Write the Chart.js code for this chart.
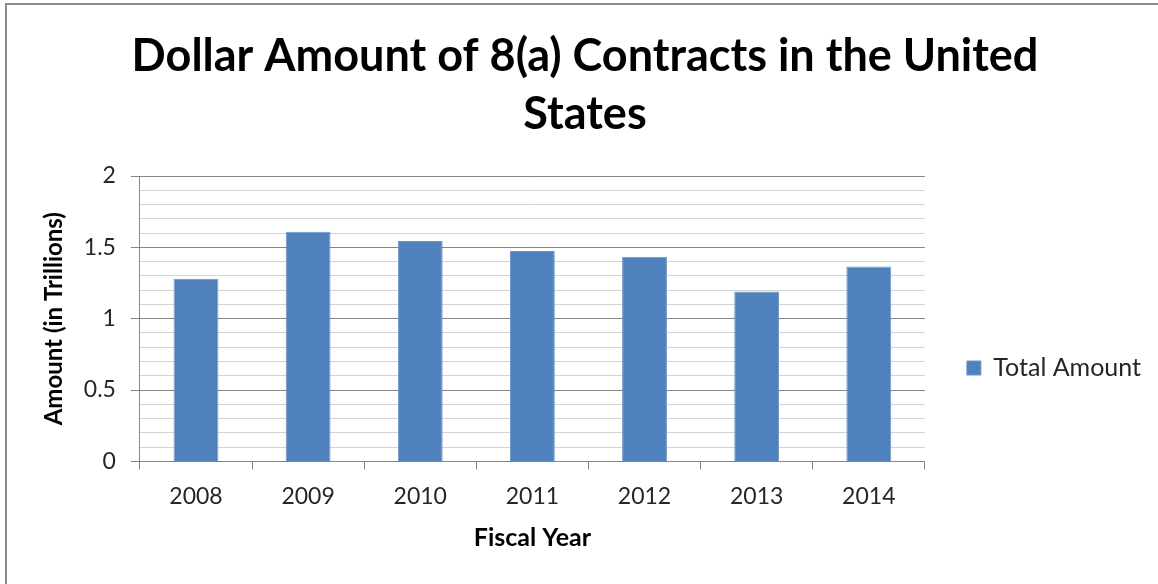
<!DOCTYPE html>
<html>
<head>
<meta charset="utf-8">
<title>Dollar Amount of 8(a) Contracts</title>
<script src="https://cdn.jsdelivr.net/npm/chart.js@4.4.1/dist/chart.umd.min.js"></script>
<style>
  html, body { margin: 0; padding: 0; background: #fff; overflow: hidden; }
  #wrap { position: relative; width: 1158px; height: 584px; }
  #frame { position: absolute; left: 5px; top: 3px; width: 1300px; height: 800px;
           border: 2px solid #8c8c8c; box-sizing: border-box; }
  #contracts { position: absolute; left: 0; top: 0; }
</style>
</head>
<body>
<div id="wrap">
  <div id="frame"></div>
  <canvas id="contracts" width="1158" height="584"></canvas>
</div>
<script>
// fiscal years and total 8(a) contract dollars (trillions)
const fiscalYears = ['2008', '2009', '2010', '2011', '2012', '2013', '2014'];
const totalAmount = [1.28, 1.61, 1.545, 1.475, 1.435, 1.19, 1.365];
const majorTicks = [0, 0.5, 1, 1.5, 2];

const FONT = 'Lato, "Open Sans", sans-serif';
const AXIS_GRAY = '#868686';
const MINOR_GRAY = '#d4d4d4';

const isMajor = (v) => majorTicks.some(m => Math.abs(m - v) < 1e-6);

const ctx = document.getElementById('contracts').getContext('2d');
const chart = new Chart(ctx, {
    type: 'bar',
    data: {
        labels: fiscalYears,
        datasets: [{
            label: 'Total Amount',
            data: totalAmount,
            backgroundColor: '#4F81BD',
            borderColor: '#6b96c9',
            borderWidth: 1,
            barPercentage: 0.4,
            categoryPercentage: 1.0
        }]
    },
    options: {
        responsive: false,
        animation: false,
        layout: {
            padding: {left: 19, right: 7, top: 0, bottom: 31}
        },
        plugins: {
            tooltip: {enabled: false},
            title: {
                display: true,
                text: ['Dollar Amount of 8(a) Contracts in the United', 'States'],
                color: '#000',
                font: {family: FONT, size: 45, weight: 'bold', lineHeight: 1.3},
                padding: {top: 27, bottom: 32}
            },
            legend: {
                display: true,
                position: 'right',
                align: 'center',
                // blank legend title pushes the entry down to the middle of the frame
                title: {display: true, text: '', font: {size: 10, lineHeight: 1.2}, padding: {top: 171, bottom: 0}},
                labels: {
                    boxWidth: 14,
                    boxHeight: 14,
                    padding: 42,
                    color: '#262626',
                    font: {family: FONT, size: 25}
                }
            }
        },
        scales: {
            x: {
                offset: true,
                grid: {
                    display: true,
                    drawOnChartArea: false,
                    drawTicks: true,
                    offset: true,
                    tickLength: 8,
                    tickColor: AXIS_GRAY
                },
                border: {display: true, color: AXIS_GRAY, width: 1},
                ticks: {
                    color: '#262626',
                    font: {family: FONT, size: 23},
                    padding: 13,
                    maxRotation: 0
                },
                title: {
                    display: true,
                    text: 'Fiscal Year',
                    color: '#000',
                    font: {family: FONT, size: 25, weight: 'bold'},
                    padding: {top: 0, bottom: 0}
                }
            },
            y: {
                min: 0,
                max: 2,
                grid: {
                    color: (c) => isMajor(c.tick.value) ? AXIS_GRAY : MINOR_GRAY,
                    tickColor: (c) => isMajor(c.tick.value) ? AXIS_GRAY : 'rgba(0,0,0,0)',
                    tickLength: 9,
                    lineWidth: 1
                },
                border: {display: true, color: AXIS_GRAY, width: 1},
                ticks: {
                    stepSize: 0.1,
                    autoSkip: false,
                    color: '#262626',
                    font: {family: FONT, size: 23},
                    padding: 15,
                    callback: (v) => isMajor(v) ? String(majorTicks.find(m => Math.abs(m - v) < 1e-6)) : ''
                },
                title: {
                    display: true,
                    text: 'Amount (in Trillions)',
                    color: '#000',
                    font: {family: FONT, size: 24, weight: 'bold'},
                    padding: {top: 21, bottom: 0}
                }
            }
        }
    }
});
</script>
</body>
</html>
